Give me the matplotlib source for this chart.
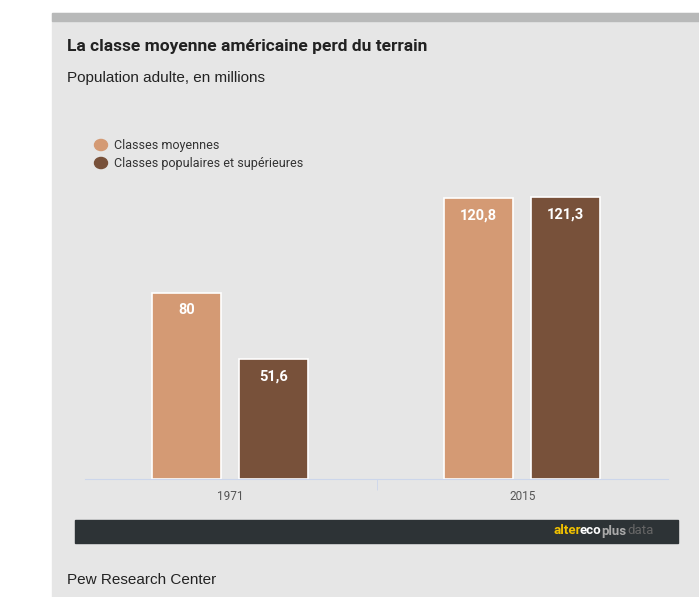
import matplotlib
matplotlib.use("Agg")
import matplotlib.pyplot as plt
from matplotlib.patches import Rectangle
import numpy as np

years = ["1971", "2015"]
moyennes = [80, 120.8]
autres = [51.6, 121.3]
labels_moy = ["80", "120,8"]
labels_aut = ["51,6", "121,3"]

W, H = 699, 597
C_MOY = "#d49a74"
C_AUT = "#78513a"
BG = "#e6e6e6"

fig = plt.figure(figsize=(W / 100, H / 100), dpi=100)
fig.patch.set_facecolor("white")


def fx(px):
    return px / W


def fy(py):
    return 1 - py / H


# panel background and top strip
fig.add_artist(Rectangle((fx(52), 0), fx(699 - 52), fy(13), transform=fig.transFigure,
                         color=BG, zorder=0))
fig.add_artist(Rectangle((fx(52), fy(21)), fx(699 - 52), 8 / H, transform=fig.transFigure,
                         color="#b8b9b9", zorder=1))

fig.text(fx(67), fy(47), "La classe moyenne américaine perd du terrain", fontsize=12.5,
         fontweight="bold", color="#222222", va="center", family="Roboto")
fig.text(fx(67), fy(78), "Population adulte, en millions", fontsize=11, color="#222222",
         va="center", family="Liberation Sans")

ax = fig.add_axes([fx(85), fy(479), fx(583), 349 / H])
ax.set_facecolor("none")
x = np.arange(len(years))
w = 0.237
b1 = ax.bar(x - 0.151, moyennes, w, color=C_MOY, edgecolor="white", linewidth=1.2)
b2 = ax.bar(x + 0.148, autres, w, color=C_AUT, edgecolor="white", linewidth=1.2)
for bars, labs in ((b1, labels_moy), (b2, labels_aut)):
    for r, lab in zip(bars, labs):
        ax.text(r.get_x() + r.get_width() / 2, r.get_height() - 7.5, lab, ha="center",
                va="center", color="white", fontweight="bold", fontsize=10.5,
                family="Roboto")
ax.set_xlim(-0.5, 1.5)
ax.set_ylim(0, 150)
for s in ("top", "right", "left"):
    ax.spines[s].set_visible(False)
ax.spines["bottom"].set_color("#ccd6eb")
ax.set_yticks([])
ax.set_xticks([0.5], minor=True)
ax.tick_params(axis="x", which="minor", length=8, color="#ccd6eb", direction="out")
ax.set_xticks(x)
ax.set_xticklabels(years, fontsize=8.5, color="#555555", family="Roboto")
ax.tick_params(axis="x", which="major", length=0, pad=8)

# legend
for py, col, txt in ((145, C_MOY, "Classes moyennes"),
                     (163, C_AUT, "Classes populaires et supérieures")):
    fig.add_artist(plt.Circle((fx(101), fy(py)), 6.5 / W, color=col,
                              transform=fig.transFigure))
    fig.text(fx(114), fy(py), txt, fontsize=9, color="#333333", va="center",
             family="Roboto")

# footer bar with logo
fig.add_artist(Rectangle((fx(75), fy(543)), fx(603), 23 / H, transform=fig.transFigure,
                         color="#2d3336"))
for px, txt, col, wt in ((553, "alter", "#f2c200", "bold"),
                         (580, "eco", "white", "bold"),
                         (601, "plus", "#aaaaaa", "bold"),
                         (627, "data", "#666666", "normal")):
    fig.text(fx(px), fy(531), txt, color=col, fontsize=9.5, fontweight=wt,
             va="center", family="Roboto")

fig.text(fx(67), fy(580), "Pew Research Center", fontsize=11, color="#222222",
         va="center", family="Liberation Sans")

fig.savefig("out.png", dpi=100)
